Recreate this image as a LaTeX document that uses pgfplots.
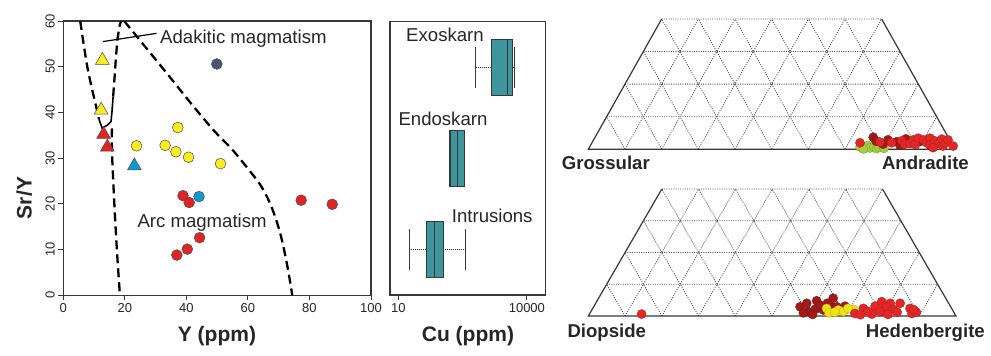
\documentclass[border=0pt]{standalone}
\usepackage{pgfplots}
\pgfplotsset{compat=1.18}
\usepgfplotslibrary{statistics}
\usepackage{fontspec}
\setmainfont{Liberation Sans}

% marker and fill colours
\definecolor{ptyellow}{RGB}{250,236,30}
\definecolor{ptred}{RGB}{222,36,36}
\definecolor{ptblue}{RGB}{22,150,210}
\definecolor{ptnavy}{RGB}{76,82,122}
\definecolor{boxteal}{RGB}{60,150,155}
\definecolor{tgreen}{RGB}{165,205,65}
\definecolor{tdark}{RGB}{160,26,26}
\definecolor{tred}{RGB}{228,38,38}
\definecolor{tyellow}{RGB}{238,228,20}
\definecolor{frame}{RGB}{55,55,55}

\newcommand{\annot}{\fontsize{18.6}{20}\selectfont}
\newcommand{\axlab}{\fontsize{21}{23}\selectfont\bfseries}
\newcommand{\ternlab}{\fontsize{18.6}{20}\selectfont\bfseries}
\newcommand{\ticklab}{\fontsize{13}{14}\selectfont}

\pgfplotsset{
  panel/.style={
    scale only axis,
    axis line style={frame, line width=1.1pt},
    tick style={frame, line width=1pt},
    tick align=outside,
    major tick length=5pt,
    tick label style={font=\ticklab, text=black!85},
    /pgf/number format/assume math mode=true,
  },
  ternframe/.style={
    scale only axis, hide axis, clip=false,
    xmin=0, xmax=1, ymin=0, ymax=0.4,
  },
  tgrid/.style={black!70, line width=0.8pt, dash pattern=on 1pt off 1.3pt,
    unbounded coords=jump, forget plot},
  tedge/.style={frame, line width=1.2pt, forget plot},
  tdot/.style={only marks, mark=*, mark size=4.6pt,
    mark options={draw=#1!75!black, line width=0.3pt, fill=#1}},
  sdot/.style={only marks, mark=*, mark size=5.4pt,
    mark options={draw=black!70, line width=0.5pt, fill=#1}},
  stri/.style={only marks, mark=triangle*, mark size=8pt,
    mark options={draw=black!70, line width=0.5pt, fill=#1}},
  bound/.style={black, line width=2.3pt, dash pattern=on 9pt off 5pt},
}

% ternary grid (x = position along the base, y = fraction of the apex end-member)
\newcommand{\terngrid}{%
  \addplot[tgrid] coordinates {
    (0.05,0.1) (0.95,0.1) (nan,nan)
    (0.1,0.2) (0.9,0.2) (nan,nan)
    (0.15,0.3) (0.85,0.3) (nan,nan)
    (0.2,0.4) (0.8,0.4) (nan,nan)
    (0.1,0) (0.3,0.4) (nan,nan)
    (0.2,0) (0.4,0.4) (nan,nan)
    (0.3,0) (0.5,0.4) (nan,nan)
    (0.4,0) (0.6,0.4) (nan,nan)
    (0.5,0) (0.7,0.4) (nan,nan)
    (0.6,0) (0.8,0.4) (nan,nan)
    (0.7,0) (0.85,0.3) (nan,nan)
    (0.8,0) (0.9,0.2) (nan,nan)
    (0.9,0) (0.95,0.1) (nan,nan)
    (0.1,0) (0.05,0.1) (nan,nan)
    (0.2,0) (0.1,0.2) (nan,nan)
    (0.3,0) (0.15,0.3) (nan,nan)
    (0.4,0) (0.2,0.4) (nan,nan)
    (0.5,0) (0.3,0.4) (nan,nan)
    (0.6,0) (0.4,0.4) (nan,nan)
    (0.7,0) (0.5,0.4) (nan,nan)
    (0.8,0) (0.6,0.4) (nan,nan)
    (0.9,0) (0.7,0.4)
  };
  \addplot[tedge] coordinates {(0.2,0.4) (0,0) (1,0) (0.8,0.4)};
}

\begin{document}
\begin{tikzpicture}[x=1pt, y=1pt]
\useasboundingbox (0,0) rectangle (991,356);

% ---------------- Sr/Y vs Y ----------------
\begin{axis}[panel,
  at={(63.3pt,60.7pt)}, anchor=south west,
  width=307.7pt, height=274.3pt,
  xmin=0, xmax=100, ymin=0, ymax=60,
  xtick={0,20,...,100}, ytick={0,10,...,60},
  xtick pos=bottom, ytick pos=left,
  yticklabel style={rotate=90, anchor=south},
]
  % field boundaries
  \addplot[bound, smooth] coordinates {(5.5,60) (6.6,55) (7.8,50) (9.2,45.5) (10.6,41.5) (11.6,38.5)};
  \addplot[black, line width=1.6pt] coordinates {(11.6,38.5) (12.6,36.6) (14.3,37.2) (15.5,38) (15.8,40) (16.2,43.5)};
  \addplot[bound] coordinates {(16.2,43.5) (16.7,48) (17.1,52) (17.6,56) (18.3,59) (19,60.5)};
  \addplot[bound, smooth] coordinates {(15.8,36.5) (15.8,31.8) (16.3,24) (16.8,17.2) (17.5,9) (18.4,0)};
  \addplot[bound, smooth] coordinates {(19.8,60) (25,55.7) (33.6,48.6) (42.2,41.4) (49,36) (55,31.8) (60,27.7) (63.9,24.3) (66.8,20.7) (69.1,16.7) (70.9,12.5) (72.5,7.5) (73.7,3) (74.4,0)};
  \addplot[black, line width=1.2pt] coordinates {(12.9,55.5) (30.3,57.3)};
  % samples
  \addplot[sdot=ptnavy] coordinates {(49.9,50.6)};
  \addplot[sdot=ptyellow] coordinates {(37.2,36.7) (23.8,32.7) (33.1,32.8) (36.6,31.4) (40.7,30.2) (51.1,28.8)};
  \addplot[sdot=ptblue] coordinates {(44.1,21.6)};
  \addplot[sdot=ptred] coordinates {(38.9,21.8) (40.9,20.3) (77.3,20.8) (87.4,19.9) (44.3,12.6) (40.3,10.1) (36.9,8.8)};
  \addplot[stri=ptyellow] coordinates {(12.7,51.4) (12.3,40.5)};
  \addplot[stri=ptred] coordinates {(13.1,35.2) (14.3,32.4)};
  \addplot[stri=ptblue] coordinates {(23.1,28.3)};
\end{axis}
\node[anchor=base west, inner sep=0pt, font=\annot, text=black!85] at (160,312) {Adakitic magmatism};
\node[anchor=base west, inner sep=0pt, font=\annot, text=black!85] at (137.3,128.7) {Arc magmatism};
\node[anchor=base, inner sep=0pt, font=\axlab, text=black!85] at (217,14.3) {Y (ppm)};
\node[anchor=base, rotate=90, inner sep=0pt, font=\axlab, text=black!85] at (31.7,158) {Sr/Y};

% ---------------- Cu box plots ----------------
\begin{axis}[panel,
  at={(390pt,61pt)}, anchor=south west,
  width=155.7pt, height=273.3pt,
  xmode=log, xmin=6.4, xmax=27500, ymin=0, ymax=10,
  xtick={10,10000}, xticklabels={10,10000}, xminorticks=false,
  ytick=\empty, xtick pos=bottom,
  boxplot/draw direction=x,
  boxplot/box extend=2.05,
  boxplot/whisker extend=1.48,
  boxplot/draw/lower whisker/.code={%
    \draw[frame, line width=1pt, dash pattern=on 1pt off 1pt]
      (boxplot box cs:\pgfplotsboxplotvalue{lower whisker},0.5)
      -- (boxplot box cs:\pgfplotsboxplotvalue{lower quartile},0.5);
    \draw[frame, line width=1.2pt]
      (boxplot whisker cs:\pgfplotsboxplotvalue{lower whisker},0)
      -- (boxplot whisker cs:\pgfplotsboxplotvalue{lower whisker},1);
  },
  boxplot/draw/upper whisker/.code={%
    \draw[frame, line width=1pt, dash pattern=on 1pt off 1pt]
      (boxplot box cs:\pgfplotsboxplotvalue{upper quartile},0.5)
      -- (boxplot box cs:\pgfplotsboxplotvalue{upper whisker},0.5);
    \draw[frame, line width=1.2pt]
      (boxplot whisker cs:\pgfplotsboxplotvalue{upper whisker},0)
      -- (boxplot whisker cs:\pgfplotsboxplotvalue{upper whisker},1);
  },
]
  % Exoskarn
  \addplot[fill=boxteal, draw=frame, line width=1.1pt,
    boxplot prepared={draw position=8.32, lower whisker=643, lower quartile=1520,
      median=3597, upper quartile=4710, upper whisker=5130}] coordinates {};
  % Endoskarn
  \addplot[fill=boxteal, draw=frame, line width=1.1pt,
    boxplot prepared={draw position=5.01, lower whisker=161, lower quartile=161,
      median=235, upper quartile=348, upper whisker=348}] coordinates {};
  % Intrusions
  \addplot[fill=boxteal, draw=frame, line width=1.1pt,
    boxplot prepared={draw position=1.66, lower whisker=18.1, lower quartile=44.4,
      median=69.3, upper quartile=112, upper whisker=376}] coordinates {};
\end{axis}
\node[anchor=base west, inner sep=0pt, font=\annot, text=black!85] at (406,314.3) {Exoskarn};
\node[anchor=base west, inner sep=0pt, font=\annot, text=black!85] at (398.3,230) {Endoskarn};
\node[anchor=base west, inner sep=0pt, font=\annot, text=black!85] at (451.7,133.3) {Intrusions};
\node[anchor=base, inner sep=0pt, font=\axlab, text=black!85] at (468,14.3) {Cu (ppm)};

% ---------------- Garnet ternary ----------------
\begin{axis}[ternframe,
  at={(588.3pt,206.7pt)}, anchor=south west,
  width=366.7pt, height=130.3pt,
]
  \terngrid
  \addplot[tdot=tgreen] coordinates {(0.741,0.007) (0.755,0.003) (0.763,0.012) (0.768,0.004) (0.779,0.008) (0.786,0.002) (0.793,0.006) (0.806,0.003) (0.750,0.001)};
  \addplot[tdot=tdark] coordinates {(0.777,0.037) (0.785,0.025) (0.804,0.016) (0.817,0.029) (0.841,0.023) (0.866,0.032) (0.905,0.024) (0.926,0.030) (0.850,0.012)};
  \addplot[tdot=tred] coordinates {(0.741,0.020) (0.795,0.022) (0.827,0.020) (0.855,0.026) (0.863,0.016) (0.877,0.018) (0.886,0.029) (0.891,0.015) (0.900,0.034) (0.914,0.029) (0.923,0.020) (0.932,0.034) (0.932,0.013) (0.945,0.026) (0.954,0.018) (0.964,0.031) (0.967,0.010) (0.973,0.020) (0.981,0.029) (0.995,0.010) (0.940,0.005)};
\end{axis}
\node[anchor=base west, inner sep=0pt, font=\ternlab, text=black!85] at (561.7,186) {Grossular};
\node[anchor=base east, inner sep=0pt, font=\ternlab, text=black!85] at (969,186) {Andradite};

% ---------------- Pyroxene ternary ----------------
\begin{axis}[ternframe,
  at={(588.3pt,40pt)}, anchor=south west,
  width=367.7pt, height=127pt,
]
  \terngrid
  \addplot[tdot=tdark] coordinates {(0.576,0.029) (0.594,0.040) (0.598,0.014) (0.621,0.048) (0.617,0.021) (0.639,0.019) (0.666,0.056) (0.662,0.029) (0.676,0.029) (0.698,0.031) (0.585,0.010) (0.630,0.034) (0.650,0.040) (0.610,0.005)};
  \addplot[tdot=tyellow] coordinates {(0.648,0.024) (0.680,0.019) (0.694,0.014) (0.721,0.021) (0.655,0.010) (0.670,0.012) (0.706,0.024)};
  \addplot[tdot=tred] coordinates {(0.145,0.006) (0.725,0.008) (0.748,0.024) (0.771,0.006) (0.780,0.031) (0.798,0.045) (0.802,0.019) (0.821,0.040) (0.830,0.021) (0.848,0.040) (0.875,0.024) (0.880,0.008) (0.793,0.014) (0.811,0.028) (0.760,0.015) (0.840,0.012) (0.815,0.005) (0.740,0.004) (0.892,0.012) (0.885,0.020)};
\end{axis}
\node[anchor=base west, inner sep=0pt, font=\ternlab, text=black!85] at (567.3,18) {Diopside};
\node[anchor=base east, inner sep=0pt, font=\ternlab, text=black!85] at (985,18) {Hedenbergite};
\end{tikzpicture}
\end{document}
